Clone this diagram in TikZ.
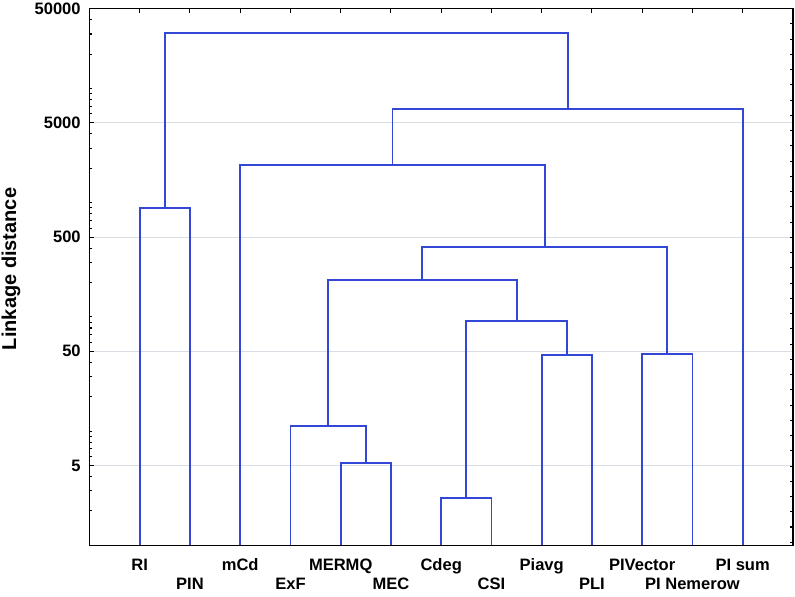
\documentclass[tikz,border=0pt]{standalone}
\usepackage{fontspec}
\setmainfont{Liberation Sans}
\usepackage{tikz}
\definecolor{treeblue}{HTML}{3347D6}
\definecolor{gridgray}{HTML}{DCDCE4}
\tikzset{
  branch/.style={treeblue,line width=1.4pt},
  leaflab/.style={anchor=base,inner sep=0pt,font=\fontsize{12.4}{14}\selectfont\bfseries},
  ticklab/.style={anchor=east,inner sep=0pt,xshift=-6.4pt,font=\fontsize{12.4}{14}\selectfont\bfseries},
  gridline/.style={gridgray,line width=0.7pt},
  frame/.style={black,line width=1.2pt},
  tickmark/.style={black,line width=0.8pt}
}

\begin{document}
\begin{tikzpicture}[x=37.6875pt,y=85.65pt]
\useasboundingbox (-2.780,-0.444) rectangle (13.041,4.775);
\foreach \e in {0,...,3} \draw[gridline] (-1,{\e+log10(5)}) -- (13,{\e+log10(5)});
\foreach \i/\lab/\nm/\ly in {0/RI/RI/-0.2163,1/PIN/PIN/-0.385,2/mCd/mCd/-0.2163,3/ExF/ExF/-0.385,4/MERMQ/MERMQ/-0.2163,5/MEC/MEC/-0.385,6/Cdeg/Cdeg/-0.2163,7/CSI/CSI/-0.385,8/Piavg/Piavg/-0.2163,9/PLI/PLI/-0.385,10/PIVector/PIVector/-0.2163,11/PI Nemerow/PINem/-0.385,12/PI sum/PIsum/-0.2163}{
  \coordinate (\nm) at (\i,0);
  \node[leaflab] (t\nm) at (\i,\ly) {\lab};
}
\coordinate (jRP) at (0.5,2.954);
\coordinate (jMM) at (4.5,0.718);
\coordinate (jEx) at (3.75,1.047);
\coordinate (jCC) at (6.5,0.4116);
\coordinate (jPP) at (8.5,1.666);
\coordinate (jCP) at (7.5,1.967);
\coordinate (jVN) at (10.5,1.678);
\coordinate (jMid) at (5.625,2.326);
\coordinate (jLow) at (8.0625,2.609);
\coordinate (jCd) at (5.03125,3.330);
\coordinate (jSum) at (8.515625,3.820);
\coordinate (jTop) at (4.5078,4.489);
\draw[branch] (RI) |- (jRP) -| (PIN);
\draw[branch] (MERMQ) |- (jMM) -| (MEC);
\draw[branch] (ExF) |- (jEx) -| (jMM);
\draw[branch] (Cdeg) |- (jCC) -| (CSI);
\draw[branch] (Piavg) |- (jPP) -| (PLI);
\draw[branch] (jCC) |- (jCP) -| (jPP);
\draw[branch] (PIVector) |- (jVN) -| (PINem);
\draw[branch] (jEx) |- (jMid) -| (jCP);
\draw[branch] (jMid) |- (jLow) -| (jVN);
\draw[branch] (mCd) |- (jCd) -| (jLow);
\draw[branch] (jCd) |- (jSum) -| (PIsum);
\draw[branch] (jRP) |- (jTop) -| (jSum);
\draw[frame] (-1,0) rectangle (13,4.699);
\foreach \i in {0,...,12} \draw[tickmark] (\i,4.699) -- ++(0,-3pt);
\foreach \k in {1,...,35} \draw[tickmark] (13,{4.699-0.1335*\k}) -- ++(-2.5pt,0);
\foreach \e in {0,...,4}{
  \foreach \m in {1,...,9}{
    \pgfmathsetmacro\ly{\e+log10(\m)}
    \ifdim\ly pt>0.01pt\ifdim\ly pt<4.69pt
      \draw[tickmark] (-1,\ly) -- ++(2.2pt,0);
    \fi\fi
  }
}
\foreach \v/\e in {5/0,50/1,500/2,5000/3,50000/4}{
  \draw[tickmark] (-1,{\e+log10(5)}) -- ++(3.6pt,0);
  \node[ticklab] (y\v) at (-1,{\e+log10(5)}) {\v};
}
\node[rotate=90,inner sep=0pt,font=\fontsize{15}{17}\selectfont\bfseries] (ytitle) at (-2.561,2.42) {Linkage distance};
\end{tikzpicture}
\end{document}
